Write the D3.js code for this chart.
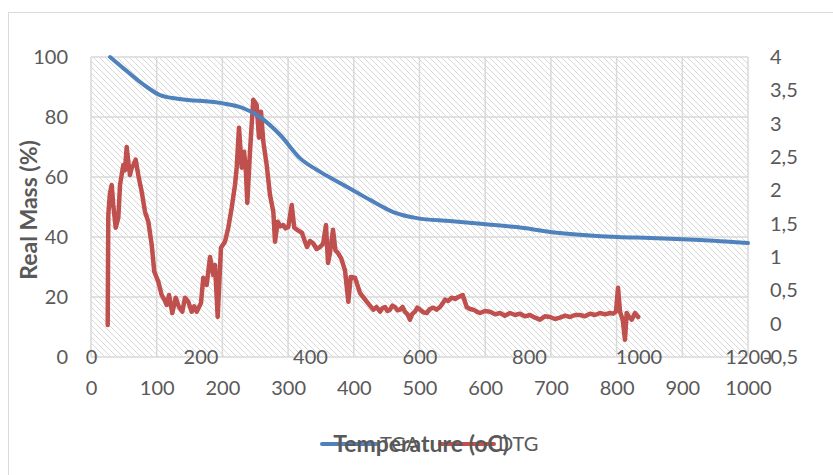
<!DOCTYPE html>
<html>
<head>
<meta charset="utf-8">
<script src="https://cdn.jsdelivr.net/npm/d3@7"></script>
<style>
  html, body { margin: 0; padding: 0; background: #fff; }
  svg { display: block; }
  text { font-family: Lato, "Open Sans", sans-serif; fill: #595959; }
</style>
</head>
<body>
<svg id="chart" width="833" height="475"></svg>
<script>
// ---- data ----
const tgaTemp = [29, 49, 85, 105, 135, 196, 231, 257, 288, 318, 349, 390, 425, 460, 496, 546, 597, 648, 699, 749, 801, 851, 927, 1000];
const tgaMass = [100, 96.3, 90, 87.3, 86, 84.7, 83, 80, 74, 66.3, 61.7, 56.7, 52.3, 48.3, 46.3, 45.3, 44.3, 43.3, 41.7, 40.7, 40, 39.7, 39, 38];

const dtgTemp = [30.5, 31.6, 34.5, 37.8, 40.7, 45.1, 49.9, 53.0, 59.0, 62.0, 65.2, 68.1, 71.2, 74.0, 77.3, 81.6, 86.4, 89.5, 92.6, 98.6, 104.7, 110.9, 115.6, 122.9,
  129.1, 134.0, 138.3, 142.5, 148.5, 154.7, 160.7, 166.8, 171.7, 177.7, 183.9, 188.5, 193.1, 200.9, 205.1, 211.3, 217.4, 223.4, 226.5, 231.4, 237.4, 244.7,
  250.8, 257.0, 263.0, 266.1, 270.3, 275.3, 279.5, 282.6, 285.5, 290.4, 296.4, 302.6, 306.8, 310.5, 314.7, 320.9, 326.9, 333.0, 336.1, 341.0,
  346.0, 351.2, 355.5, 360.4, 366.6, 371.3, 378.0, 385.4, 390.0, 394.5, 400.0, 405.5, 412.0, 418.3, 424.0, 429.2, 432.9, 436.5, 442.0, 446.5, 451.1, 457.0, 463.9, 470.0, 474.3, 482.2, 491.3, 497.0, 503.6, 509.5, 515.6,
  521.5, 527.9, 532.0, 537.0, 541.5, 546.1, 550.5, 555.3, 560.0, 564.4, 569.0, 573.5, 578.0, 582.6, 587.0, 591.8, 596.0, 600.9, 607.0, 613.2, 619.0, 625.2, 631.0, 637.4, 642.0, 646.6, 652.5, 658.8, 665.0, 670.9, 678.9, 686.2, 692.0, 698.3, 704.5, 710.5, 719.5, 728.8,
  738.0, 747.0, 756.0, 765.3, 774.5, 783.6, 792.5, 801.8, 811.0, 820.1, 829.0, 838.4, 847.5, 856.6, 866.0, 874.9, 884.0, 893.2, 902.0, 911.4, 920.5, 929.7, 939.0, 948.0, 953.5, 958.9, 962.6, 966.2, 971.2, 975.3, 978.4, 983.0, 987.6, 993.6, 999.6];
const dtgValue = [-0.02, 1.63, 1.95, 2.08, 1.78, 1.44, 1.59, 2.08, 2.38, 2.30, 2.65, 2.43, 2.23, 2.33, 2.38, 2.46, 2.23, 2.10, 1.98, 1.68, 1.53, 1.18, 0.78, 0.63,
  0.43, 0.36, 0.28, 0.43, 0.16, 0.39, 0.25, 0.18, 0.39, 0.33, 0.18, 0.26, 0.18, 0.31, 0.69, 0.58, 1.00, 0.73, 0.88, 0.10, 1.14, 1.23,
  1.44, 1.74, 2.08, 2.34, 2.94, 2.34, 2.58, 2.34, 1.81, 2.58, 3.36, 3.28, 2.79, 3.18, 2.73, 2.38, 1.93, 1.68, 1.23, 1.53,
  1.46, 1.48, 1.43, 1.45, 1.78, 1.44, 1.40, 1.36, 1.25, 1.15, 1.24, 1.21, 1.12, 1.15, 1.20, 1.48, 0.91, 1.06, 1.41, 1.10, 1.06, 0.98, 0.80, 0.33, 0.70, 0.69, 0.46, 0.40, 0.33, 0.27, 0.21,
  0.25, 0.18, 0.23, 0.25, 0.19, 0.21, 0.27, 0.25, 0.20, 0.21, 0.25, 0.18, 0.14, 0.06, 0.15, 0.18, 0.24, 0.21, 0.17, 0.16, 0.22, 0.24, 0.21, 0.25, 0.30, 0.36, 0.34, 0.39, 0.37, 0.40, 0.43, 0.25, 0.22, 0.21, 0.18, 0.16, 0.19, 0.18,
  0.14, 0.16, 0.12, 0.16, 0.13, 0.15, 0.11, 0.13, 0.09, 0.06, 0.11, 0.10, 0.07, 0.09, 0.12, 0.10, 0.13, 0.13, 0.11, 0.15, 0.13, 0.16, 0.14, 0.16, 0.15, 0.18, 0.54, 0.18, 0.06, -0.24, 0.16, 0.10, 0.06, 0.16, 0.10];

const xTicksMain = [0, 100, 200, 300, 400, 500, 600, 700, 800, 900, 1000];
const xTicksSec = [0, 200, 400, 600, 800, 1000, 1200];
const yTicksLeft = [0, 20, 40, 60, 80, 100];
const yTicksRight = [-0.5, 0, 0.5, 1, 1.5, 2, 2.5, 3, 3.5, 4];
const seriesNames = ["TGA", "DTG"];
const seriesColors = ["#4F81BD", "#C0504D"];

// ---- layout ----
const L = 91, R = 748, T = 57, B = 357;
const svg = d3.select("#chart");

const x1 = d3.scaleLinear().domain([0, 1000]).range([L, R]);
const x2 = d3.scaleLinear().domain([0, 1200]).range([L, R]);
const yL = d3.scaleLinear().domain([0, 100]).range([B, T]);
const yR = d3.scaleLinear().domain([-0.5, 4]).range([B, T]);

// outer chart border
svg.append("rect").attr("x", 8.5).attr("y", 12.5).attr("width", 900).attr("height", 600)
  .attr("fill", "#fff").attr("stroke", "#d9d9d9").attr("stroke-width", 1);

// hatch pattern
const defs = svg.append("defs");
const pat = defs.append("pattern").attr("id", "hatch").attr("patternUnits", "userSpaceOnUse")
  .attr("width", 6).attr("height", 6);
pat.append("rect").attr("width", 6).attr("height", 6).attr("fill", "#fff");
pat.append("path").attr("d", "M-1,-1 L7,7 M-1,5 L1,7 M5,-1 L7,1")
  .attr("stroke", "#d9d9d9").attr("stroke-width", 1);

svg.append("rect").attr("x", L).attr("y", T).attr("width", R - L).attr("height", B - T)
  .attr("fill", "url(#hatch)");

// gridlines
const grid = svg.append("g").attr("stroke", "#d9d9d9").attr("stroke-width", 1.5);
grid.selectAll("line.v").data(xTicksMain).enter().append("line")
  .attr("x1", d => x1(d)).attr("x2", d => x1(d)).attr("y1", T).attr("y2", B);
grid.selectAll("line.h").data(yTicksLeft).enter().append("line")
  .attr("x1", L).attr("x2", R).attr("y1", d => yL(d)).attr("y2", d => yL(d));

// axes
function styleAxis(g) {
  g.select(".domain").remove();
  g.selectAll(".tick line").remove();
  g.selectAll("text").style("font-family", "Lato, sans-serif").style("font-size", "20px").attr("fill", "#595959");
}
svg.append("g").attr("transform", `translate(0,${B + 22})`)
  .call(d3.axisBottom(x1).tickValues(xTicksMain).tickSize(0).tickPadding(0).tickFormat(d3.format("d")))
  .call(styleAxis)
  .selectAll("text").attr("dy", "0.32em").attr("y", 10);

svg.append("g").attr("transform", `translate(0,${B})`)
  .call(d3.axisBottom(x2).tickValues(xTicksSec).tickSize(0).tickPadding(0).tickFormat(d3.format("d")))
  .call(styleAxis)
  .selectAll("text").attr("y", 0).attr("dy", "0.35em");

svg.append("g").attr("transform", `translate(${L - 23},0)`)
  .call(d3.axisLeft(yL).tickValues(yTicksLeft).tickSize(0).tickPadding(0))
  .call(styleAxis);

const fmtR = d => String(d).replace(".", ",");
svg.append("g").attr("transform", `translate(${R + 22},0)`)
  .call(d3.axisRight(yR).tickValues(yTicksRight).tickSize(0).tickPadding(0).tickFormat(fmtR))
  .call(styleAxis)
  .selectAll("text").attr("dx", d => d < 0 ? -7 : 0);

// series
const tga = tgaTemp.map((t, i) => [t, tgaMass[i]]);
const dtg = dtgTemp.map((t, i) => [t, dtgValue[i]]);

svg.append("path").datum(dtg)
  .attr("fill", "none").attr("stroke", seriesColors[1]).attr("stroke-width", 4.5)
  .attr("stroke-linejoin", "round").attr("stroke-linecap", "round")
  .attr("d", d3.line().x(d => x2(d[0])).y(d => yR(d[1])));

svg.append("path").datum(tga)
  .attr("fill", "none").attr("stroke", seriesColors[0]).attr("stroke-width", 4)
  .attr("stroke-linejoin", "round").attr("stroke-linecap", "round")
  .attr("d", d3.line().curve(d3.curveMonotoneX).x(d => x1(d[0])).y(d => yL(d[1])));

// axis title (left)
svg.append("text").attr("transform", `translate(29,${(T + B) / 2 + 3}) rotate(-90)`)
  .attr("text-anchor", "middle").attr("dy", "0.35em")
  .style("font-size", "23px").style("font-weight", "bold").text("Real Mass (%)");

// legend
const legY = 444;
const lg = svg.append("g");
const legX = [322, 440];
seriesNames.forEach((n, i) => {
  lg.append("line").attr("x1", legX[i]).attr("x2", legX[i] + 54).attr("y1", legY).attr("y2", legY)
    .attr("stroke", seriesColors[i]).attr("stroke-width", 4).attr("stroke-linecap", "round");
  lg.append("text").attr("x", legX[i] + 58).attr("y", legY).attr("dy", "0.35em")
    .style("font-size", "20px").text(n);
});

// bottom axis title (overlapping legend as in the reference)
svg.append("text").attr("x", 421).attr("y", legY).attr("dy", "0.35em").attr("text-anchor", "middle")
  .style("font-size", "23px").style("font-weight", "bold").text("Temperature (oC)");
</script>
</body>
</html>
